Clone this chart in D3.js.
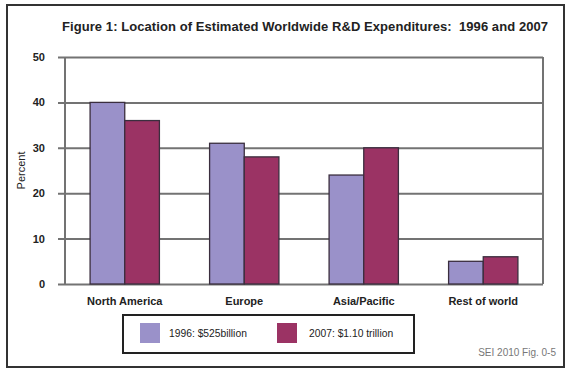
<!DOCTYPE html>
<html><head><meta charset="utf-8">
<script src="https://cdn.jsdelivr.net/npm/d3@7"></script>
<style>body{margin:0;background:#fff}svg{display:block}text{font-family:Arial,"Liberation Sans",sans-serif}</style>
</head><body>
<svg id="c" width="573" height="374"></svg>
<script>
const categories = ["North America","Europe","Asia/Pacific","Rest of world"];
const seriesNames = ["1996: $525billion","2007: $1.10 trillion"];
const values1996 = [40,31,24,5];
const values2007 = [36,28,30,6];
const yTicks = [0,10,20,30,40,50];
const colors = ["#9a91c9","#9b3364"];

const svg = d3.select("#c");
svg.append("rect").attr("x",7).attr("y",5).attr("width",557).attr("height",362)
  .attr("fill","#fff").attr("stroke","#333").attr("stroke-width",2);

const L=65,R=543,T=57,B=284;
const x = d3.scaleBand().domain(categories).range([L,R]).paddingInner(0.42).paddingOuter(0.21);
const y = d3.scaleLinear().domain([0,50]).range([B,T]);
const xs = d3.scaleBand().domain([0,1]).range([0,x.bandwidth()]);

// gridlines
const yAxis = d3.axisLeft(y).tickValues(yTicks).tickSize(R-L+7).tickPadding(10).tickFormat(d3.format("d"));
const ga = svg.append("g").attr("transform",`translate(${R},0)`).call(yAxis);
ga.select(".domain").remove();
ga.selectAll(".tick line").attr("stroke","#737373").attr("stroke-width",2);
ga.selectAll(".tick text").attr("font-size",11).attr("font-weight","bold").attr("fill","#222").attr("x",-(R-L)-20);
// plot frame left/right
svg.append("line").attr("x1",L).attr("x2",L).attr("y1",T).attr("y2",B).attr("stroke","#737373").attr("stroke-width",2);
svg.append("line").attr("x1",R).attr("x2",R).attr("y1",T).attr("y2",B).attr("stroke","#737373").attr("stroke-width",2);

const data = categories.map((c,i)=>({c, v:[values1996[i],values2007[i]]}));
const g = svg.append("g");
data.forEach(d=>{
  d.v.forEach((v,j)=>{
    g.append("rect").attr("x",x(d.c)+xs(j)).attr("y",y(v)).attr("width",xs.bandwidth()).attr("height",B-y(v))
      .attr("fill",colors[j]).attr("stroke","#3a2e3e").attr("stroke-width",1.3);
  });
});

// x labels
const xa = svg.append("g").attr("transform",`translate(0,${B})`).call(d3.axisBottom(x).tickSize(0).tickPadding(13));
xa.select(".domain").remove();
xa.selectAll("text").attr("font-size",11).attr("font-weight","bold").attr("fill","#222");

// title
svg.append("text").attr("x",305).attr("y",31).attr("text-anchor","middle").attr("font-size",13)
  .attr("font-weight","bold").attr("fill","#222").attr("textLength",486).attr("lengthAdjust","spacing")
  .text("Figure 1: Location of Estimated Worldwide R&D Expenditures:  1996 and 2007").attr("xml:space","preserve");

// y label
svg.append("text").attr("transform",`translate(25,${(T+B)/2}) rotate(-90)`).attr("text-anchor","middle")
  .attr("font-size",11).attr("fill","#222").text("Percent");

// legend
svg.append("rect").attr("x",123).attr("y",315).attr("width",291).attr("height",38).attr("fill","#fff").attr("stroke","#222").attr("stroke-width",2);
const lx=[140,277], tx=[169,309];
seriesNames.forEach((s,j)=>{
  svg.append("rect").attr("x",lx[j]).attr("y",323).attr("width",20).attr("height",20).attr("fill",colors[j]);
  svg.append("text").attr("x",tx[j]).attr("y",337).attr("font-size",10.3).attr("fill","#222").text(s);
});

svg.append("text").attr("x",556).attr("y",356).attr("text-anchor","end").attr("font-size",10).attr("fill","#777").text("SEI 2010 Fig. 0-5");
</script>
</body></html>
